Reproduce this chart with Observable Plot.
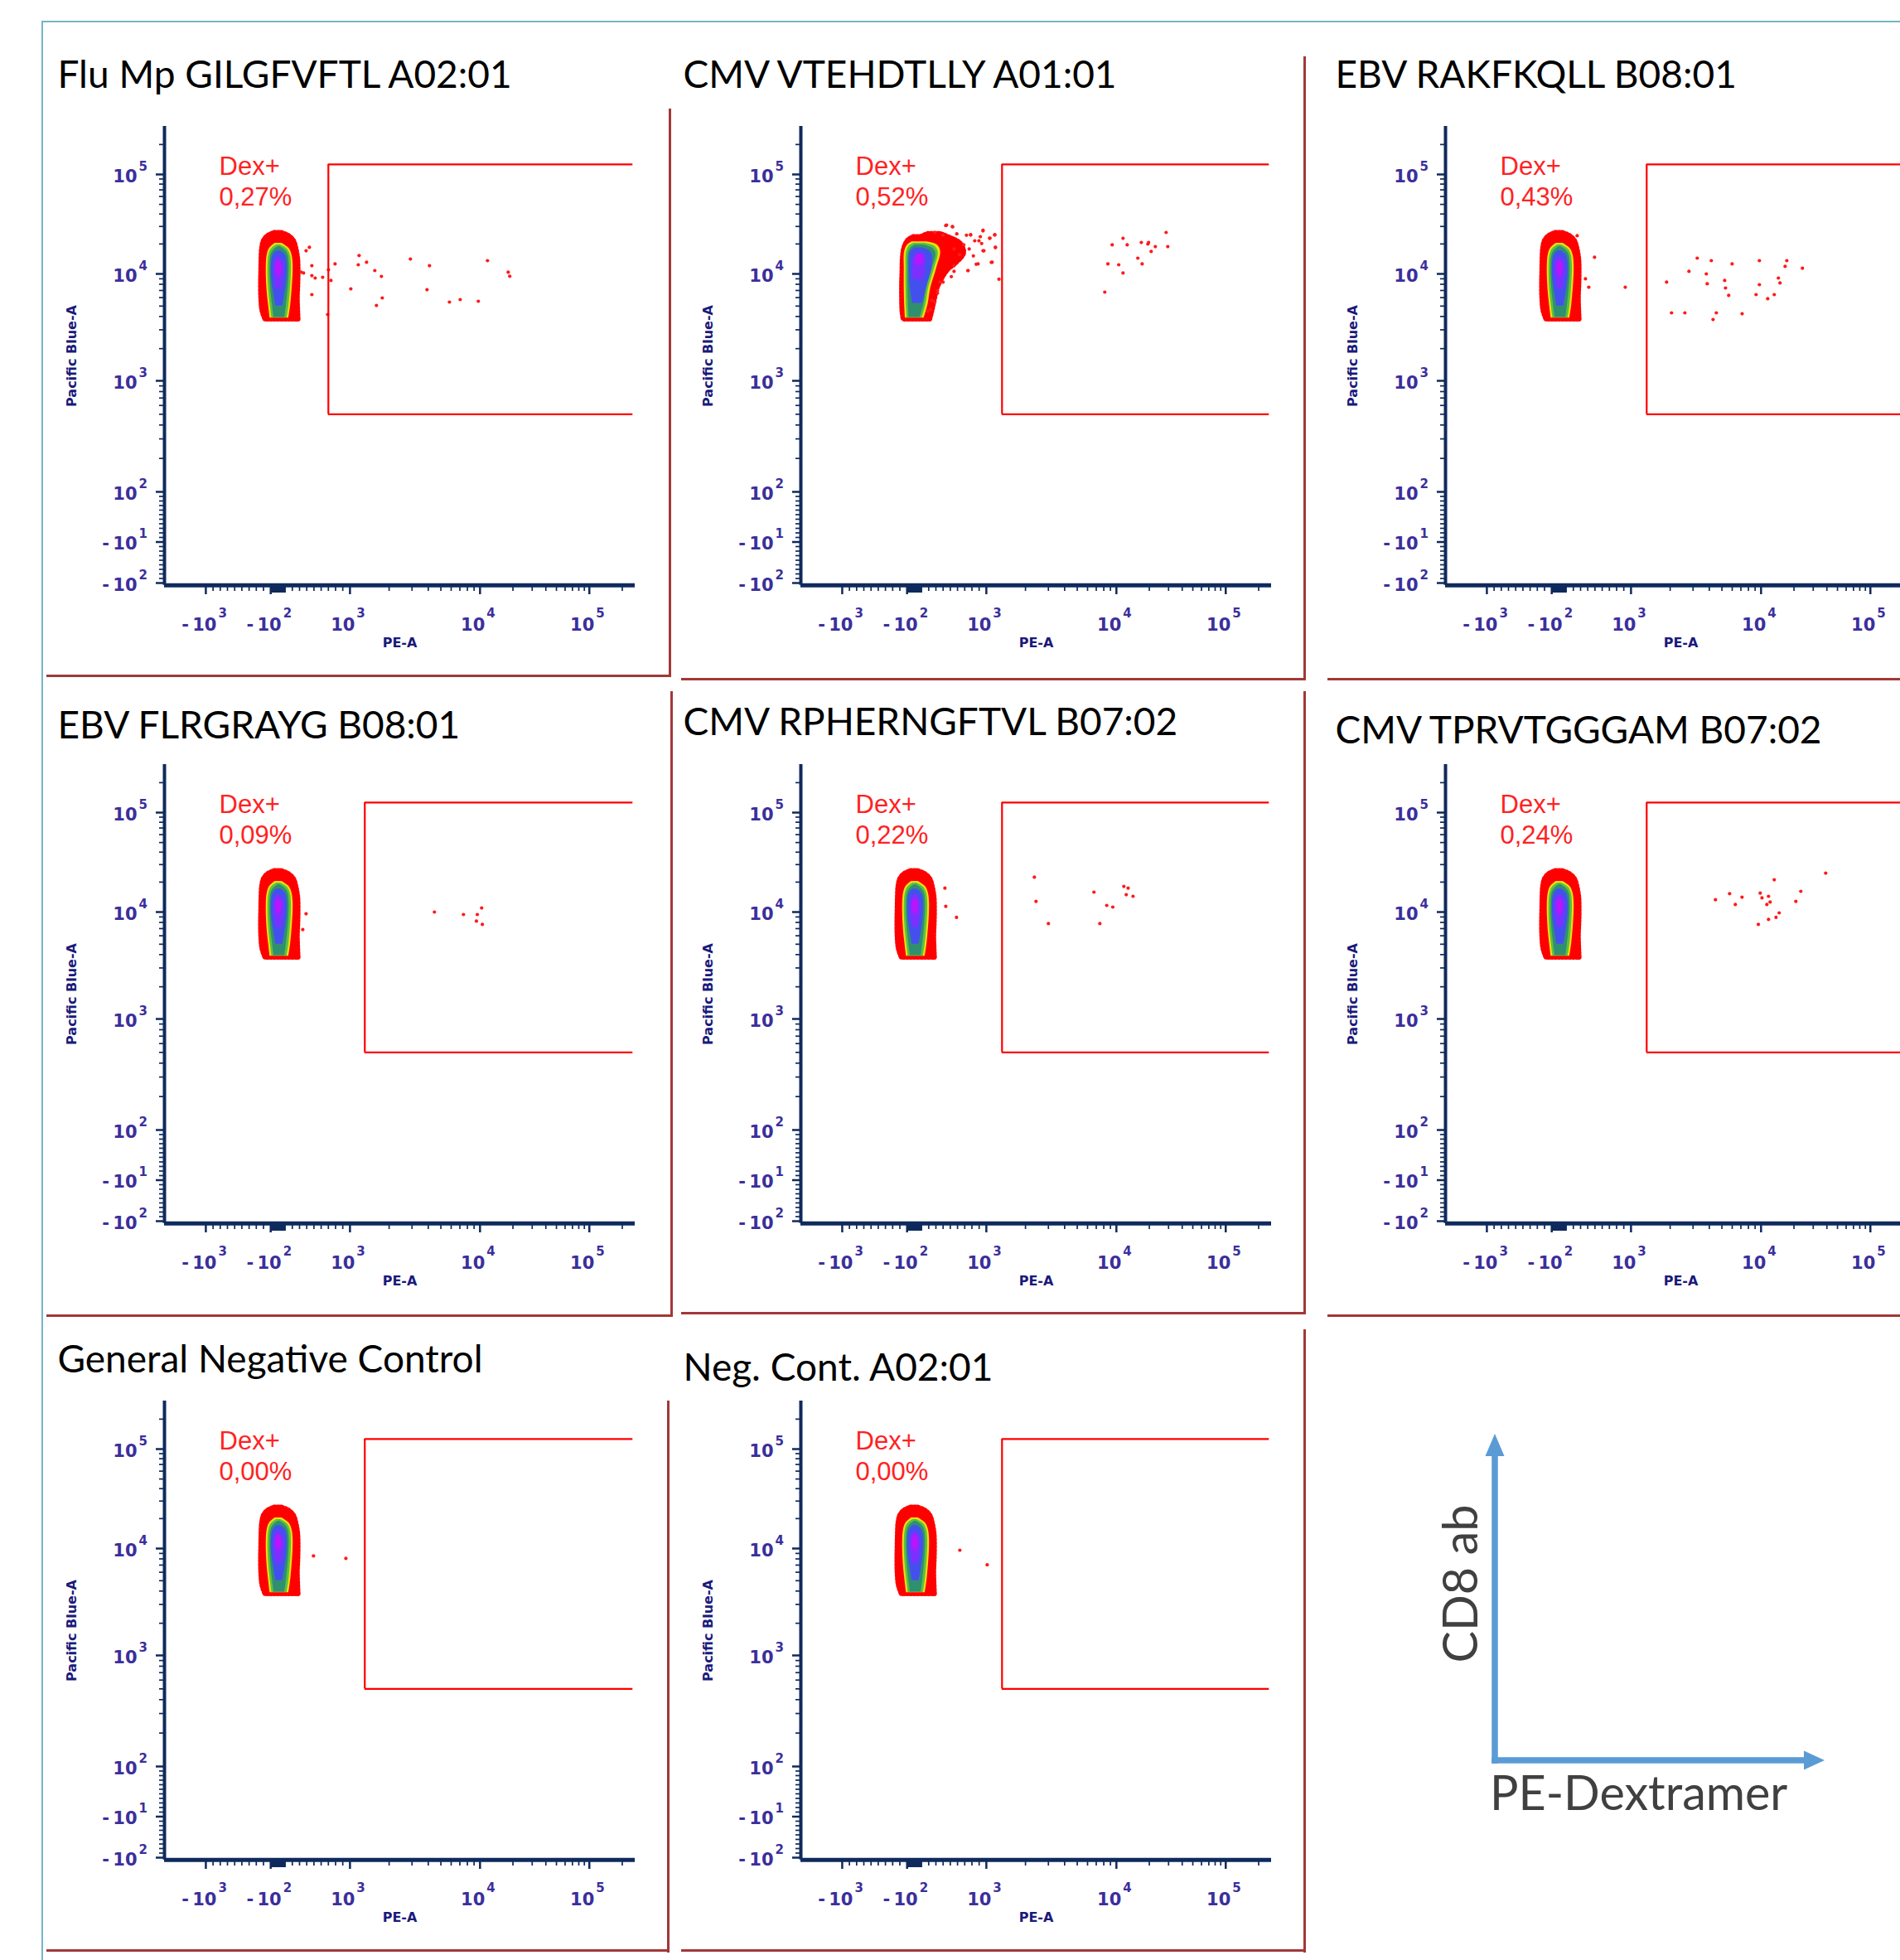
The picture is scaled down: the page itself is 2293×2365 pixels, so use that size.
<!DOCTYPE html>
<html><head><meta charset="utf-8">
<script src="https://cdn.jsdelivr.net/npm/d3@7"></script>
<script src="https://cdn.jsdelivr.net/npm/@observablehq/plot@0.6"></script>
<style>
html,body{margin:0;padding:0;background:#fff;}
body{width:2293px;height:2365px;position:relative;overflow:hidden;}
.panel{position:absolute;width:738px;}
.fr{position:absolute;background:#a23838;}
#outer{position:absolute;left:50px;top:25px;right:-5px;bottom:-5px;border-top:2px solid #74b6c8;border-left:2px solid #74b6c8;}
</style></head><body>
<div id="outer"></div>
<script>
// ---------------- data ----------------
const PANEL_TITLES = ["Flu Mp GILGFVFTL A02:01", "CMV VTEHDTLLY A01:01", "EBV RAKFKQLL B08:01",
  "EBV FLRGRAYG B08:01", "CMV RPHERNGFTVL B07:02", "CMV TPRVTGGGAM B07:02",
  "General Negative Control", "Neg. Cont. A02:01"];
const DEX_PCT = ["0,27%", "0,52%", "0,43%", "0,09%", "0,22%", "0,24%", "0,00%", "0,00%"];
const GATE_PE_MIN = [700, 1320, 1320, 1300, 1320, 1320, 1300, 1320];
const GATE_PE_MAX = 250000;
const GATE_CD8 = [500, 126000];

// axis ticks (PE-A and Pacific Blue-A)
const X_MAJOR = [-1000, -100, 1000, 10000, 100000];
const X_CLUSTER = [-90, -80, -70, -60, -50, -40, -30, -20, -10, 0, 10, 20, 30, 40, 50, 60, 70, 80, 90, 100];
const X_MINOR = [-900, -800, -700, -600, -500, -400, -300, -200, 200, 300, 400, 500, 600, 700, 800, 900,
  2000, 3000, 4000, 5000, 6000, 7000, 8000, 9000, 20000, 30000, 40000, 50000, 60000, 70000, 80000, 90000, 200000];
const Y_MAJOR = [-100, -10, 100, 1000, 10000, 100000];
const Y_MINOR = [-90, -80, -70, -60, -50, -40, -30, -20, 0, 10, 20, 30, 40, 50, 60, 70, 80, 90,
  200, 300, 400, 500, 600, 700, 800, 900, 2000, 3000, 4000, 5000, 6000, 7000, 8000, 9000,
  20000, 30000, 40000, 50000, 60000, 70000, 80000, 90000, 200000];
const X_LABELS = [{v: -1000, b: "-\u200910", e: "3"}, {v: -100, b: "-\u200910", e: "2"},
  {v: 1000, b: "10", e: "3"}, {v: 10000, b: "10", e: "4"}, {v: 100000, b: "10", e: "5"}];
const Y_LABELS = [{v: 100000, b: "10", e: "5"}, {v: 10000, b: "10", e: "4"}, {v: 1000, b: "10", e: "3"},
  {v: 100, b: "10", e: "2"}, {v: -10, b: "-\u200910", e: "1"}, {v: -100, b: "-\u200910", e: "2"}];
const X_DOMAIN = [-2080, 262143];
const Y_DOMAIN = [-105, 304000];

// density contours of the CD8+ population: [CD8 level, PE left, PE right]
const STD_RED = [[3750,-175,285],[4500,-215,280],[6000,-232,275],[8000,-235,282],[10500,-232,285],[14000,-228,280],[18000,-220,255],[21500,-195,220],[24000,-140,155],[25800,-50,55]];
const STD_YEL = [[3860,-110,150],[5000,-130,175],[7000,-152,195],[9500,-162,208],[12500,-162,210],[15500,-150,195],[18000,-118,155],[20300,-40,55]];
const STD_GRN = [[3880,-85,125],[5000,-105,150],[7000,-128,170],[9500,-138,183],[12500,-138,185],[15500,-125,170],[17800,-92,128],[19600,-20,35]];
const STD_TEAL = [[3920,-55,95],[5000,-75,115],[7000,-98,138],[9500,-110,152],[12500,-110,155],[15500,-97,140],[17300,-62,100],[18800,0,30]];
const STD_BLUE = [[5000,-30,65],[6500,-58,95],[8500,-85,120],[11000,-92,130],[13500,-88,125],[15500,-68,102],[17000,-20,40]];
const STD_VIO = [[7200,-20,50],[9000,-48,78],[11000,-58,88],[13000,-48,75],[14800,-12,30]];
const STD_MAG = [[9600,-12,35],[11000,-30,55],[12500,-26,50],[13800,0,18]];

const P2_TAIL = [[4100,0,200],[6180,0,280],[8370,0,360],[11000,0,470],[12800,0,580],[16100,0,690],[20200,0,640],[23500,100,470],[25300,200,360]];
const P2_RED = [[3750,-150,220],[4500,-165,250],[6000,-170,290],[8000,-170,330],[10500,-165,370],[14000,-160,410],[18000,-140,410],[21500,-90,350],[23500,-10,200]];
const P2_YEL = [[3860,-125,135],[5170,-135,190],[7380,-140,228],[11400,-140,310],[16800,-135,365],[19500,-95,320],[21000,-30,170]];
const P2_GRN = [[3880,-100,108],[5170,-110,160],[7380,-115,198],[11400,-115,280],[16500,-108,332],[19000,-70,282],[20300,-5,140]];
const P2_TEAL = [[3920,-72,80],[5170,-82,130],[7380,-88,170],[11400,-88,248],[16000,-82,300],[18300,-45,250],[19600,15,115]];
const P2_BLUE = [[5300,-25,115],[8370,-65,190],[11000,-72,240],[14500,-70,255],[16800,-52,225],[18300,5,115]];
const P2_VIO = [[8800,-5,125],[10500,-28,148],[12500,-22,155],[14500,-15,160],[16300,25,125]];
const P2_MAG = [[12300,25,110],[14000,15,132],[15700,45,110]];

// individual events: [PE-A, Pacific Blue-A]
const DOTS_P1 = [[391,17100],[437,18500],[471,12100],[322,10400],[356,10200],[471,9640],[517,9150],[621,9300],[701,11000],[793,12600],[736,8680],[690,4170],[471,6400],[1015,7240],[1175,15300],[1158,12350],[1341,13100],[1552,10800],[1745,9480],[1771,5960],[1598,5070],[2916,14100],[4087,12100],[3910,7110],[5817,5450],[7040,5750],[9700,5550],[11700,13600],[18100,10400],[18700,9500]];
const DOTS_P2 = [[9280,19600],[11500,22800],[12550,19600],[16900,20700],[19700,20700],[19400,19950],[28500,26100],[29500,18800],[22700,18800],[20800,16800],[15700,14400],[17200,12600],[8600,12600],[10500,12350],[11500,10200],[8140,6750],
  [448,31000],[529,29900],[954,27100],[1158,24600],[1060,22800],[1175,18500],[966,17100],[1108,13100],[885,12600],[747,10800],[782,24600],[897,21500],[552,10600],[356,8370],[322,6610],[241,5640],[184,4480],[1250,8910],
  [437,30600],[532,29700],[284,26100],[399,24500],[590,25300],[724,24500],[782,24800],[916,23700],[954,27500],[1065,22900],[1163,24800],[839,21500],[935,20200],[686,19600],[552,17800],[762,17800],[629,15650],[820,15170],[954,17100],[1175,18400],[859,12500],[1092,13070],[744,10800],[552,12100],[514,9420],[399,8370],[322,7000],[284,5470],[226,4650]];
const DOTS_P3 = [[494,14700],[920,7510],[1878,8370],[2050,4320],[2595,4320],[2790,10600],[3230,14400],[3795,10000],[3855,8080],[4145,13600],[4275,3740],[4530,4320],[5250,8680],[5330,7380],[5640,6290],[5990,12600],[7150,4240],[9160,6400],[9710,7930],[9710,13600],[11500,5860],[13200,6400],[14400,9150],[14900,8230],[16600,11900],[17200,13600],[23900,11400],[368,9000],[414,7500],[253,24200]];
const DOTS_P4 = [[4460,10000],[7460,9480],[9530,9480],[10350,11000],[9380,8230],[10500,7660],[391,9640],[345,6850]];
const DOTS_P5 = [[2340,22400],[2410,12800],[3000,7800],[6720,15850],[7460,7800],[8430,11660],[9380,11220],[11700,18100],[12800,17400],[12300,14950],[14200,14400],[437,11400],[586,8910],[425,17400]];
const DOTS_P6 = [[4460,13300],[5730,15300],[6340,11900],[7140,14100],[9850,15500],[10200,13870],[11700,14400],[12100,12600],[11300,11900],[13200,21100],[14650,9820],[13700,8910],[11700,8520],[9530,7660],[20800,12800],[23100,16150],[39000,24600]];
const DOTS_P7 = [[494,8520],[943,8080]];
const DOTS_P8 = [[632,9640],[1015,7040]];

// ---------------- styling / layout ----------------
const RED = "#ff0000", NAVY = "#0f2a5c", LABEL = "#3b2f9c", AXT = "#1a1a7a";
const COLORS = {red: RED, yel: "#e8e010", grn: "#5cc040", teal: "#2f9070", blue: "#4450ee", vio: "#7c30ff", mag: "#b815ff"};
const COL_AXIS_X = [198, 966, 1744];
const ROW_AXIS_Y = [706, 1476, 2244];
const TITLE_DX = [-129, -142, -133];
const TITLE_DY = [-47, -47, -47, -32, -36, -26, -35, -25];
const ML = 150, MR = 20, MT = 110, MB = 90, PW = 568, PH = 554;

// biexponential display transform (pixels along each axis)
function tx(v) {
  if (v >= 1e4) return 381 + 132 * Math.log10(v / 1e4);
  if (v >= 1e3) return 224 + 157 * Math.log10(v / 1e3);
  if (v > -1e3) return 137 + 0.087 * v;
  return 50 - 157 * Math.log10(-v / 1e3);
}
function ty(v) {
  if (v >= 1e5) return 496 + 120 * Math.log10(v / 1e5);
  if (v >= 1e4) return 376 + 120 * Math.log10(v / 1e4);
  if (v >= 1e3) return 247 + 129 * Math.log10(v / 1e3);
  if (v >= 100) return 113 + 134 * Math.log10(v / 100);
  return 3 + (v + 100) * 0.55;
}

const STD_BLOB = [
  {rows: STD_RED, c: "red", speckle: true}, {rows: STD_YEL, c: "yel"}, {rows: STD_GRN, c: "grn"},
  {rows: STD_TEAL, c: "teal"}, {rows: STD_BLUE, c: "blue"}, {rows: STD_VIO, c: "vio"}, {rows: STD_MAG, c: "mag"}];
const P2_BLOB = [
  {rows: P2_TAIL, c: "red", speckle: true}, {rows: P2_RED, c: "red", speckle: true}, {rows: P2_YEL, c: "yel"},
  {rows: P2_GRN, c: "grn"}, {rows: P2_TEAL, c: "teal"}, {rows: P2_BLUE, c: "blue"}, {rows: P2_VIO, c: "vio"}, {rows: P2_MAG, c: "mag"}];

const DOTS = [DOTS_P1, DOTS_P2, DOTS_P3, DOTS_P4, DOTS_P5, DOTS_P6, DOTS_P7, DOTS_P8];

function bandMark(b) {
  const extra = b.speckle ? {stroke: COLORS[b.c], strokeWidth: 6, strokeDasharray: "1.5,2.8"} : {};
  return Plot.areaX(b.rows, {x1: d => d[1], x2: d => d[2], y: d => d[0], fill: COLORS[b.c], curve: "catmull-rom", ...extra});
}

function panel(i) {
  const col = i % 3, row = Math.floor(i / 3);
  const blob = i === 1 ? P2_BLOB : STD_BLOB;
  const noFmt = () => "";
  const txtBase = {fontFamily: "DejaVu Sans", fontWeight: "bold", fill: LABEL, lineAnchor: "bottom"};
  const pos = X_LABELS.filter(d => d.v > 0), neg = X_LABELS.filter(d => d.v < 0);
  const marks = [
    ...blob.map(bandMark),
    Plot.dot(DOTS[i], {x: d => d[0], y: d => d[1], r: 2.1, fill: "#ff1a1a"}),
    // gate
    Plot.ruleX([GATE_PE_MIN[i]], {y1: GATE_CD8[0], y2: GATE_CD8[1], stroke: RED, strokeWidth: 2.2}),
    Plot.ruleY(GATE_CD8, {x1: GATE_PE_MIN[i], x2: GATE_PE_MAX, stroke: RED, strokeWidth: 2.2}),
    // axes
    Plot.axisX(X_MINOR, {anchor: "bottom", tickSize: 7, stroke: NAVY, strokeWidth: 1.7, tickFormat: noFmt, label: null}),
    Plot.axisX(X_CLUSTER, {anchor: "bottom", tickSize: 9, stroke: NAVY, strokeWidth: 1.7, tickFormat: noFmt, label: null}),
    Plot.axisX(X_MAJOR, {anchor: "bottom", tickSize: 11, stroke: NAVY, strokeWidth: 2.5, tickFormat: noFmt, label: null}),
    Plot.axisY(Y_MINOR, {anchor: "left", tickSize: 6, stroke: NAVY, strokeWidth: 1.7, tickFormat: noFmt, label: null}),
    Plot.axisY(Y_MAJOR, {anchor: "left", tickSize: 10, stroke: NAVY, strokeWidth: 2.5, tickFormat: noFmt, label: null}),
    Plot.ruleY([Y_DOMAIN[0]], {x1: X_DOMAIN[0], x2: X_DOMAIN[1], stroke: NAVY, strokeWidth: 5}),
    Plot.ruleX([X_DOMAIN[0]], {y1: Y_DOMAIN[0], y2: Y_DOMAIN[1], stroke: NAVY, strokeWidth: 4}),
    // tick labels
    Plot.text(pos, {x: "v", text: "b", frameAnchor: "bottom", textAnchor: "end", dx: 6, dy: 54, fontSize: 21, ...txtBase}),
    Plot.text(pos, {x: "v", text: "e", frameAnchor: "bottom", textAnchor: "start", dx: 8, dy: 38, fontSize: 15, ...txtBase}),
    Plot.text(neg, {x: "v", text: "b", frameAnchor: "bottom", textAnchor: "end", dx: 13, dy: 54, fontSize: 21, ...txtBase}),
    Plot.text(neg, {x: "v", text: "e", frameAnchor: "bottom", textAnchor: "start", dx: 15, dy: 38, fontSize: 15, ...txtBase}),
    Plot.text(Y_LABELS, {y: "v", text: "b", frameAnchor: "left", textAnchor: "end", dx: -33, dy: 9, fontSize: 21, ...txtBase}),
    Plot.text(Y_LABELS, {y: "v", text: "e", frameAnchor: "left", textAnchor: "start", dx: -31, dy: -5, fontSize: 15, ...txtBase}),
    // axis titles
    Plot.text(["PE-A"], {text: d => d, frameAnchor: "bottom", lineAnchor: "bottom", dy: 74, fontSize: 16, fontWeight: "bold", fontFamily: "DejaVu Sans", fill: AXT}),
    Plot.text(["Pacific Blue-A"], {text: d => d, frameAnchor: "left", rotate: -90, textAnchor: "middle", lineAnchor: "middle", dx: -112, fontSize: 16, fontWeight: "bold", fontFamily: "DejaVu Sans", fill: AXT}),
    // gate label
    Plot.text([DEX_PCT[i]], {text: d => "Dex+\n" + d, frameAnchor: "top-left", textAnchor: "start", lineAnchor: "top", lineHeight: 1.2, dx: 66, dy: 32, fontSize: 31, fontFamily: "Liberation Sans", fill: "#ff2222"}),
    // panel title
    Plot.text([PANEL_TITLES[i]], {text: d => d, frameAnchor: "top-left", textAnchor: "start", lineAnchor: "bottom", dx: TITLE_DX[col], dy: TITLE_DY[i], fontSize: 46, fontFamily: "Lato", fill: "#000"})
  ];
  const svg = Plot.plot({
    width: ML + PW + MR, height: MT + PH + MB,
    marginLeft: ML, marginRight: MR, marginTop: MT, marginBottom: MB,
    x: {type: "linear", transform: tx, domain: [tx(X_DOMAIN[0]), tx(X_DOMAIN[1])], axis: null},
    y: {type: "linear", transform: ty, domain: [0, PH], axis: null},
    style: {background: "transparent", overflow: "visible", maxWidth: "none", fontFamily: "DejaVu Sans"},
    marks
  });
  const div = document.createElement("div");
  div.className = "panel";
  div.style.left = (COL_AXIS_X[col] - ML) + "px";
  div.style.top = (ROW_AXIS_Y[row] - PH - MT) + "px";
  div.appendChild(svg);
  document.body.appendChild(div);
}
for (let i = 0; i < 8; i++) panel(i);

// panel frames [x, y1, y2] and [y, x1, x2]
const FRAME_V = [[808,131,815],[1574,68,819],[810,834,1587],[1574,834,1584],[806,1690,2356],[1574,1604,2356]];
const FRAME_H = [[815,56,810],[819,822,1576],[819,1602,2293],[1587,56,812],[1584,822,1576],[1587,1602,2293],[2353,56,808],[2353,822,1576]];
for (const [x, y1, y2] of FRAME_V) {
  const d = document.createElement("div"); d.className = "fr";
  Object.assign(d.style, {left: (x - 1.5) + "px", top: y1 + "px", width: "3px", height: (y2 - y1) + "px"});
  document.body.appendChild(d);
}
for (const [y, x1, x2] of FRAME_H) {
  const d = document.createElement("div"); d.className = "fr";
  Object.assign(d.style, {left: x1 + "px", top: (y - 1.5) + "px", width: (x2 - x1) + "px", height: "3px"});
  document.body.appendChild(d);
}

// axis-orientation legend
const legend = document.createElementNS("http://www.w3.org/2000/svg", "svg");
legend.setAttribute("width", 593); legend.setAttribute("height", 560);
legend.style.position = "absolute"; legend.style.left = "1700px"; legend.style.top = "1700px";
legend.innerHTML = `
  <g fill="#5b9bd5" stroke="none">
    <rect x="100.25" y="55" width="7.5" height="373"/>
    <rect x="100.25" y="420.25" width="380" height="7.5"/>
    <polygon points="104,30 92.5,57 115.5,57"/>
    <polygon points="502,424 477,412.5 477,435.5"/>
  </g>
  <g font-family="Lato, 'Open Sans', sans-serif" font-size="57.5" fill="#404040">
    <text x="98" y="484">PE-Dextramer</text>
    <text transform="translate(83,211) rotate(-90)" text-anchor="middle">CD8 ab</text>
  </g>`;
document.body.appendChild(legend);
</script>
</body></html>
